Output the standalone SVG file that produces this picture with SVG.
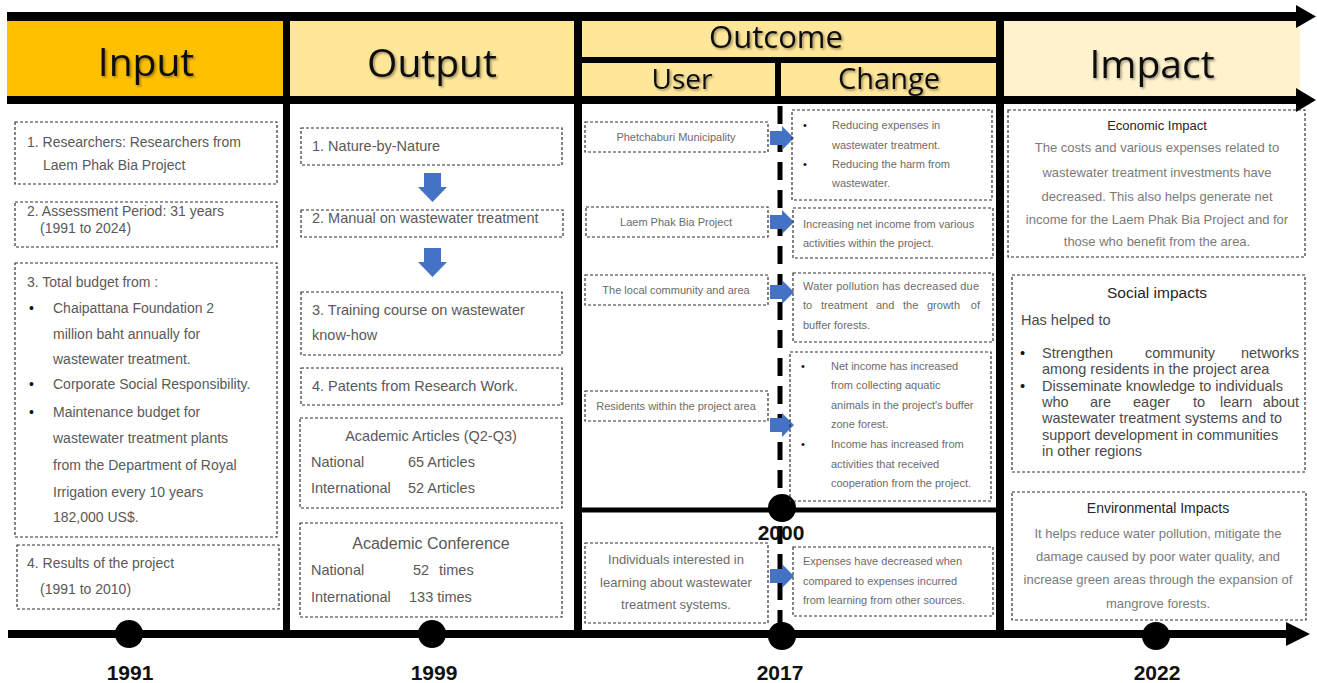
<svg xmlns="http://www.w3.org/2000/svg" width="1317" height="683" viewBox="0 0 1317 683">
<style>
.box{fill:none;stroke:#333;stroke-width:1.2;stroke-dasharray:3 2}
.hd{font-family:"Open Sans","Liberation Sans",sans-serif;fill:#111}
.t{font-family:"Liberation Sans",Arial,sans-serif}
.in{font-size:14px;fill:#595959}
.out{font-size:14.5px;fill:#595959}
.oc{font-size:11px;fill:#6b6b6b}
.oc13{font-size:13px;fill:#6b6b6b}
.im{font-size:13px;fill:#7a7a7a}
.ih{font-size:13px;fill:#262626}
.soc{font-size:14.5px;fill:#4a4a4a}
.c{text-anchor:middle}
.e{text-anchor:end}
.yr{font-family:"Liberation Sans",Arial,sans-serif;font-weight:bold;font-size:21px;fill:#111;text-anchor:middle}
.blue{fill:#4472C4}
</style>
<defs>
<filter id="sh" x="-10%" y="-10%" width="130%" height="140%">
<feDropShadow dx="1.5" dy="1.5" stdDeviation="1" flood-color="#000" flood-opacity="0.4"/>
</filter>
</defs>
<rect width="1317" height="683" fill="#fff"/>

<g id="header">
<rect x="7" y="12" width="1293" height="92" fill="#000"/>
<rect x="7" y="21" width="276" height="75" fill="#FFC000"/>
<rect x="290" y="21" width="284" height="75" fill="#FFE699"/>
<rect x="582" y="21" width="414" height="36" fill="#FFE699"/>
<rect x="582" y="63" width="193" height="33" fill="#FFE699"/>
<rect x="781" y="63" width="215" height="33" fill="#FFE699"/>
<rect x="1004" y="21" width="296" height="75" fill="#FFF2CC"/>
<text class="hd c" x="146" y="76" font-size="39" filter="url(#sh)">Input</text>
<text class="hd c" x="432" y="77" font-size="39" filter="url(#sh)">Output</text>
<text class="hd c" x="776" y="48" font-size="31" filter="url(#sh)">Outcome</text>
<text class="hd c" x="682" y="89" font-size="28" filter="url(#sh)">User</text>
<text class="hd c" x="889" y="89" font-size="29" filter="url(#sh)">Change</text>
<text class="hd c" x="1152" y="78" font-size="39" filter="url(#sh)">Impact</text>
</g>

<g id="connectors">
<line x1="7" y1="16.5" x2="1298" y2="16.5" stroke="#000" stroke-width="9"/>
<polygon points="1296,5 1316,16.5 1296,28" fill="#000"/>
<line x1="7" y1="100" x2="1298" y2="100" stroke="#000" stroke-width="8"/>
<polygon points="1296,88 1316,100 1296,112" fill="#000"/>
<line x1="8" y1="634" x2="1290" y2="634" stroke="#000" stroke-width="8"/>
<polygon points="1286,622 1310,634 1286,646" fill="#000"/>
<line x1="286.5" y1="12" x2="286.5" y2="638" stroke="#000" stroke-width="7"/>
<line x1="578" y1="12" x2="578" y2="638" stroke="#000" stroke-width="8"/>
<line x1="1000" y1="12" x2="1000" y2="638" stroke="#000" stroke-width="8"/>
<line x1="578" y1="510" x2="1000" y2="510" stroke="#000" stroke-width="5"/>
<line x1="780" y1="106" x2="780" y2="630" stroke="#000" stroke-width="5" stroke-dasharray="18 10"/>
<polygon class="blue" points="424,173 441,173 441,187 447,187 432.5,202 418,187 424,187"/>
<polygon class="blue" points="424,248 441,248 441,262 447,262 432.5,277 418,262 424,262"/>
<polygon class="blue" points="770,131 782,131 782,126 794,138 782,150 782,145 770,145"/>
<polygon class="blue" points="770,215 782,215 782,210 794,222 782,234 782,229 770,229"/>
<polygon class="blue" points="770,285 782,285 782,280 794,292 782,304 782,299 770,299"/>
<polygon class="blue" points="770,418 782,418 782,413 794,425 782,437 782,432 770,432"/>
<polygon class="blue" points="770,569 782,569 782,564 794,576 782,588 782,583 770,583"/>
</g>

<g id="timeline">
<circle cx="129" cy="634" r="14" fill="#000"/>
<circle cx="432" cy="634" r="14" fill="#000"/>
<circle cx="782" cy="636" r="14" fill="#000"/>
<circle cx="1156" cy="636" r="14" fill="#000"/>
<circle cx="782" cy="508" r="14" fill="#000"/>
<text class="yr" x="130" y="680">1991</text>
<text class="yr" x="434" y="680">1999</text>
<text class="yr" x="780" y="680">2017</text>
<text class="yr" x="1157" y="680">2022</text>
<text class="yr" x="781" y="540">2000</text>
</g>

<g id="input1">
<rect class="box" x="15" y="122" width="262" height="62"/>
<text class="t in" x="27" y="147">1.  Researchers: Researchers from</text>
<text class="t in" x="43" y="170">Laem Phak Bia Project</text>
</g>
<g id="input2">
<rect class="box" x="15" y="202" width="262" height="45"/>
<text class="t in" x="27" y="216">2. Assessment Period: 31 years</text>
<text class="t in" x="40" y="233">(1991 to 2024)</text>
</g>
<g id="input3">
<rect class="box" x="15" y="263" width="262" height="274"/>
<text class="t in" x="27" y="287">3. Total budget from :</text>
<text class="t in" x="29" y="313" style="fill:#111">•</text>
<text class="t in" x="53" y="313">Chaipattana Foundation 2</text>
<text class="t in" x="53" y="339">million baht annually for</text>
<text class="t in" x="53" y="364">wastewater treatment.</text>
<text class="t in" x="29" y="389" style="fill:#111">•</text>
<text class="t in" x="53" y="389">Corporate Social Responsibility.</text>
<text class="t in" x="29" y="417" style="fill:#111">•</text>
<text class="t in" x="53" y="417">Maintenance budget for</text>
<text class="t in" x="53" y="443">wastewater treatment plants</text>
<text class="t in" x="53" y="470">from the Department of Royal</text>
<text class="t in" x="53" y="497">Irrigation every 10 years</text>
<text class="t in" x="53" y="522">182,000 US$.</text>
</g>
<g id="input4">
<rect class="box" x="17" y="545" width="262" height="64"/>
<text class="t in" x="27" y="568">4. Results of the project</text>
<text class="t in" x="40" y="594">(1991 to 2010)</text>
</g>

<g id="output1">
<rect class="box" x="301" y="128" width="261" height="37"/>
<text class="t out" x="312" y="151">1. Nature-by-Nature</text>
</g>
<g id="output2">
<rect class="box" x="301" y="210" width="262" height="27"/>
<text class="t out" x="312" y="223">2. Manual on wastewater treatment</text>
</g>
<g id="output3">
<rect class="box" x="301" y="292" width="261" height="63"/>
<text class="t out" x="312" y="315">3. Training course on wastewater</text>
<text class="t out" x="312" y="340">know-how</text>
</g>
<g id="output4">
<rect class="box" x="301" y="368" width="261" height="37"/>
<text class="t out" x="312" y="391">4. Patents from Research Work.</text>
</g>
<g id="output5">
<rect class="box" x="300" y="418" width="262" height="90"/>
<text class="t out c" x="431" y="441">Academic Articles (Q2-Q3)</text>
<text class="t out" x="311" y="467">National</text>
<text class="t out" x="408" y="467">65 Articles</text>
<text class="t out" x="311" y="493">International</text>
<text class="t out" x="408" y="493">52 Articles</text>
</g>
<g id="output6">
<rect class="box" x="300" y="523" width="262" height="94"/>
<text class="t out c" x="431" y="549" style="font-size:16px">Academic Conference</text>
<text class="t out" x="311" y="575">National</text>
<text class="t out" x="413" y="575">52</text>
<text class="t out" x="439" y="575">times</text>
<text class="t out" x="311" y="602">International</text>
<text class="t out" x="409" y="602">133 times</text>
</g>

<g id="user1">
<rect class="box" x="585" y="122" width="183" height="30"/>
<text class="t oc c" x="676" y="141">Phetchaburi Municipality</text>
</g>
<g id="user2">
<rect class="box" x="586" y="207" width="182" height="30"/>
<text class="t oc c" x="676" y="226">Laem Phak Bia Project</text>
</g>
<g id="user3">
<rect class="box" x="585" y="275" width="183" height="30"/>
<text class="t oc c" x="676" y="294">The local community and area</text>
</g>
<g id="user4">
<rect class="box" x="585" y="391" width="183" height="30"/>
<text class="t oc c" x="676" y="410">Residents within the project area</text>
</g>
<g id="user5">
<rect class="box" x="585" y="543" width="183" height="80"/>
<text class="t oc13 c" x="676" y="564">Individuals interested in</text>
<text class="t oc13 c" x="676" y="587">learning about wastewater</text>
<text class="t oc13 c" x="676" y="609">treatment systems.</text>
</g>

<g id="change1">
<rect class="box" x="792" y="110" width="200" height="90"/>
<text class="t oc" x="803" y="129" style="fill:#111">•</text>
<text class="t oc" x="832" y="129">Reducing expenses in</text>
<text class="t oc" x="832" y="149">wastewater treatment.</text>
<text class="t oc" x="803" y="168" style="fill:#111">•</text>
<text class="t oc" x="832" y="168">Reducing the harm from</text>
<text class="t oc" x="832" y="187">wastewater.</text>
</g>
<g id="change2">
<rect class="box" x="793" y="208" width="200" height="50"/>
<text class="t oc" x="803" y="228">Increasing net income from various</text>
<text class="t oc" x="803" y="247">activities within the project.</text>
</g>
<g id="change3">
<rect class="box" x="793" y="273" width="200" height="69"/>
<text class="t oc" x="803" y="290" textLength="176" lengthAdjust="spacing">Water pollution has decreased due</text>
<text class="t oc" x="803" y="309">to</text>
<text class="t oc" x="821" y="309">treatment</text>
<text class="t oc" x="876" y="309">and</text>
<text class="t oc" x="903" y="309">the</text>
<text class="t oc" x="927" y="309">growth</text>
<text class="t oc e" x="980" y="309">of</text>
<text class="t oc" x="803" y="329">buffer forests.</text>
</g>
<g id="change4">
<rect class="box" x="790" y="352" width="201" height="149"/>
<text class="t oc" x="801" y="370" style="fill:#111">•</text>
<text class="t oc" x="831" y="370">Net income has increased</text>
<text class="t oc" x="831" y="389">from collecting aquatic</text>
<text class="t oc" x="831" y="409">animals in the project's buffer</text>
<text class="t oc" x="831" y="428">zone forest.</text>
<text class="t oc" x="801" y="448" style="fill:#111">•</text>
<text class="t oc" x="831" y="448">Income has increased from</text>
<text class="t oc" x="831" y="468">activities that received</text>
<text class="t oc" x="831" y="487">cooperation from the project.</text>
</g>
<g id="change5">
<rect class="box" x="793" y="547" width="200" height="69"/>
<text class="t oc" x="803" y="565">Expenses have decreased when</text>
<text class="t oc" x="803" y="585">compared to expenses incurred</text>
<text class="t oc" x="803" y="604">from learning from other sources.</text>
</g>

<g id="impact-economic">
<rect class="box" x="1008" y="110" width="297" height="147"/>
<text class="t ih c" x="1157" y="130">Economic Impact</text>
<text class="t im c" x="1157" y="152">The costs and various expenses related to</text>
<text class="t im c" x="1157" y="177">wastewater treatment investments have</text>
<text class="t im c" x="1157" y="201">decreased. This also helps generate net</text>
<text class="t im c" x="1157" y="224">income for the Laem Phak Bia Project and for</text>
<text class="t im c" x="1157" y="246">those who benefit from the area.</text>
</g>
<g id="impact-social">
<rect class="box" x="1012" y="275" width="293" height="197"/>
<text class="t ih c" x="1157" y="298" style="font-size:15.5px">Social impacts</text>
<text class="t soc" x="1021" y="325">Has helped to</text>
<text class="t soc" x="1020" y="358" style="fill:#111">•</text>
<text class="t soc" x="1042" y="358">Strengthen</text>
<text class="t soc" x="1145" y="358">community</text>
<text class="t soc e" x="1299" y="358">networks</text>
<text class="t soc" x="1042" y="374">among residents in the project area</text>
<text class="t soc" x="1020" y="391" style="fill:#111">•</text>
<text class="t soc" x="1042" y="391">Disseminate knowledge to individuals</text>
<text class="t soc" x="1042" y="407">who</text>
<text class="t soc" x="1090" y="407">are</text>
<text class="t soc" x="1133" y="407">eager</text>
<text class="t soc" x="1193" y="407">to</text>
<text class="t soc" x="1220" y="407">learn</text>
<text class="t soc e" x="1299" y="407">about</text>
<text class="t soc" x="1042" y="423">wastewater treatment systems and to</text>
<text class="t soc" x="1042" y="440">support development in communities</text>
<text class="t soc" x="1042" y="456">in other regions</text>
</g>
<g id="impact-environmental">
<rect class="box" x="1012" y="492" width="294" height="128"/>
<text class="t ih c" x="1158" y="513" style="font-size:14px">Environmental Impacts</text>
<text class="t im c" x="1158" y="538">It helps reduce water pollution, mitigate the</text>
<text class="t im c" x="1158" y="561">damage caused by poor water quality, and</text>
<text class="t im c" x="1158" y="584">increase green areas through the expansion of</text>
<text class="t im c" x="1158" y="608">mangrove forests.</text>
</g>
</svg>
